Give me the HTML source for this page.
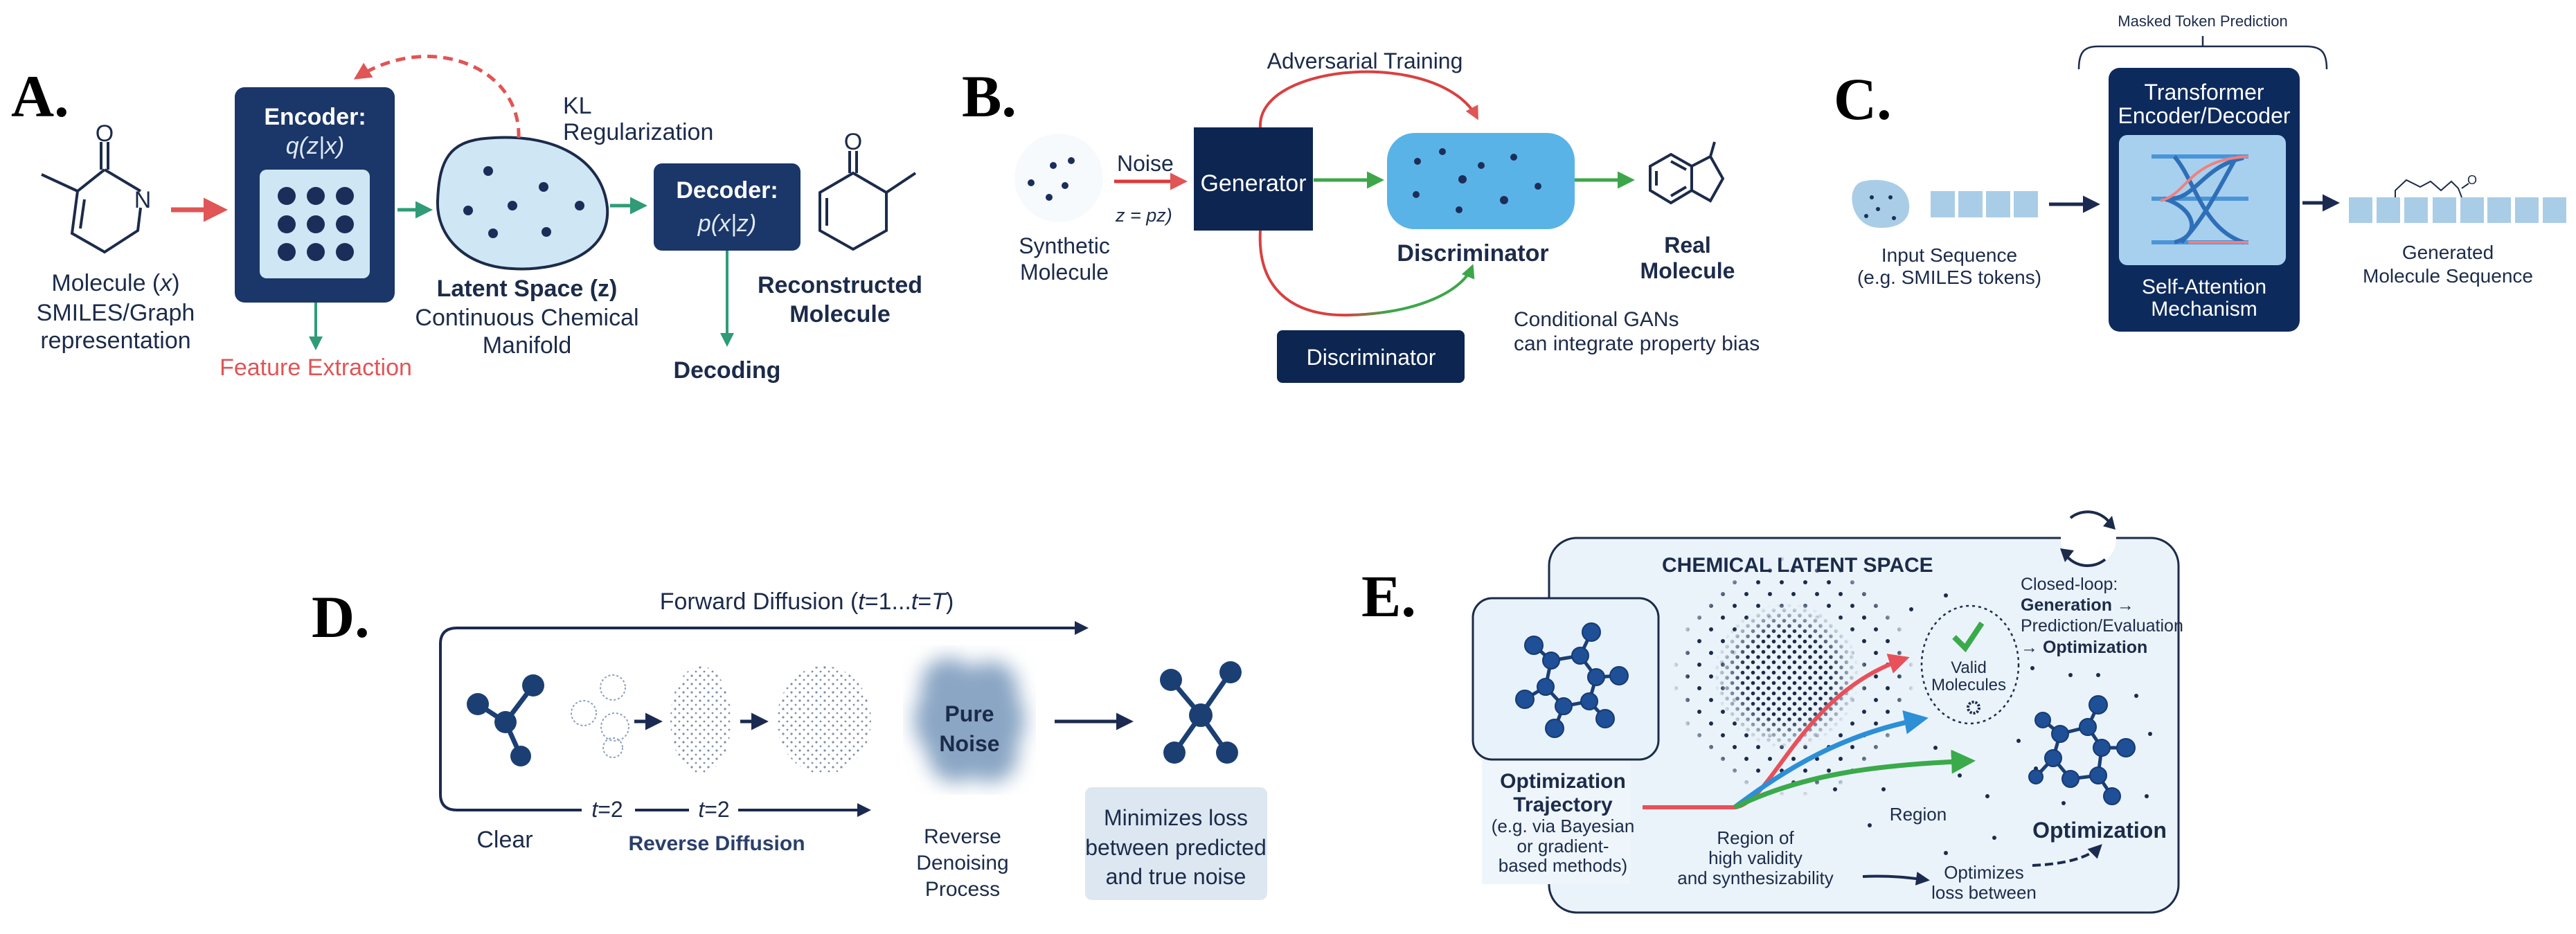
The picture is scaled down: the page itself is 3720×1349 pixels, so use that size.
<!DOCTYPE html>
<html><head><meta charset="utf-8"><style>
html,body{margin:0;padding:0;background:#fff;}
svg{display:block;}
text{font-family:"Liberation Sans",sans-serif;fill:#1c2b4a;}
.lab{font-family:"Liberation Serif",serif;font-weight:bold;fill:#000;font-size:86px;}
.w{fill:#fff;}
</style></head><body>
<svg width="3720" height="1349" viewBox="0 0 3720 1349" xmlns="http://www.w3.org/2000/svg">
<defs>
<marker id="ar" viewBox="0 0 10 10" refX="8" refY="5" markerWidth="5" markerHeight="5" orient="auto"><path d="M0,0 L10,5 L0,10 z" fill="#e05555"/></marker>
<marker id="ag" viewBox="0 0 10 10" refX="8" refY="5" markerWidth="5" markerHeight="5" orient="auto"><path d="M0,0 L10,5 L0,10 z" fill="#2f9b77"/></marker>
<marker id="ag2" viewBox="0 0 10 10" refX="8" refY="5" markerWidth="5" markerHeight="5" orient="auto"><path d="M0,0 L10,5 L0,10 z" fill="#3da64a"/></marker>
<marker id="an" viewBox="0 0 10 10" refX="8" refY="5" markerWidth="5" markerHeight="5" orient="auto"><path d="M0,0 L10,5 L0,10 z" fill="#1b2a50"/></marker>
<marker id="ab" viewBox="0 0 10 10" refX="8" refY="5" markerWidth="5" markerHeight="5" orient="auto"><path d="M0,0 L10,5 L0,10 z" fill="#2d8fd6"/></marker>
<marker id="ar2" viewBox="0 0 10 10" refX="8" refY="5" markerWidth="5" markerHeight="5" orient="auto"><path d="M0,0 L10,5 L0,10 z" fill="#e8505a"/></marker>
<marker id="ag3" viewBox="0 0 10 10" refX="8" refY="5" markerWidth="5" markerHeight="5" orient="auto"><path d="M0,0 L10,5 L0,10 z" fill="#3aaa4a"/></marker>
<linearGradient id="rg" x1="0" y1="0" x2="1" y2="0"><stop offset="0" stop-color="#d94040"/><stop offset="0.4" stop-color="#d94040"/><stop offset="0.6" stop-color="#3da64a"/><stop offset="1" stop-color="#3da64a"/></linearGradient>
<pattern id="dp" width="15" height="15" patternUnits="userSpaceOnUse"><circle cx="4" cy="4" r="2.8" fill="#1c2b4a"/><circle cx="11.5" cy="11.5" r="2.8" fill="#1c2b4a"/></pattern>
<pattern id="dp2" width="34" height="34" patternUnits="userSpaceOnUse"><circle cx="6" cy="8" r="3" fill="#1c2b4a"/><circle cx="23" cy="25" r="3" fill="#1c2b4a"/></pattern>
<pattern id="np" width="12" height="12" patternUnits="userSpaceOnUse"><circle cx="3" cy="4" r="1.6" fill="#5a7292"/><circle cx="9" cy="10" r="1.4" fill="#5a7292"/></pattern>
<radialGradient id="fade"><stop offset="0" stop-color="#fff"/><stop offset="0.6" stop-color="#fff"/><stop offset="1" stop-color="#fff" stop-opacity="0"/></radialGradient>
<radialGradient id="ring"><stop offset="0.5" stop-color="#000"/><stop offset="0.62" stop-color="#fff"/><stop offset="0.85" stop-color="#fff"/><stop offset="1" stop-color="#000"/></radialGradient>
<mask id="m1"><circle cx="2580" cy="976" r="105" fill="url(#fade)"/></mask>
<mask id="m2"><circle cx="2590" cy="976" r="175" fill="url(#ring)"/></mask>
<filter id="bl"><feGaussianBlur stdDeviation="14"/></filter>
</defs>

<!-- ========== PANEL A ========== -->
<text class="lab" x="16" y="168">A.</text>
<g stroke="#1c2b4a" stroke-width="4" fill="none">
<path d="M151,245 L203,276 M203,300 L199,333 L151,364 L104,337 L112,276 L151,245 M112,276 L60,252"/>
<path d="M122,288 L116,330"/>
<path d="M146,245 L146,205 M156,245 L156,205"/>
</g>
<text x="151" y="204" font-size="34" text-anchor="middle">O</text>
<text x="206" y="300" font-size="34" text-anchor="middle">N</text>
<text x="167" y="420" font-size="34" text-anchor="middle">Molecule (<tspan font-style="italic">x</tspan>)</text>
<text x="167" y="463" font-size="34" text-anchor="middle">SMILES/Graph</text>
<text x="167" y="503" font-size="34" text-anchor="middle">representation</text>
<line x1="247" y1="303" x2="322" y2="303" stroke="#e05555" stroke-width="7" marker-end="url(#ar)"/>
<rect x="339" y="126" width="231" height="311" rx="14" fill="#1b3668"/>
<text class="w" x="455" y="180" font-size="34" font-weight="bold" text-anchor="middle">Encoder:</text>
<text class="w" x="455" y="222" font-size="34" font-style="italic" text-anchor="middle" style="fill:#dfeaf7">q(z|x)</text>
<rect x="375" y="245" width="159" height="157" rx="10" fill="#cfe6f5"/>
<g fill="#1b2e5a"><circle cx="414" cy="283" r="13"/><circle cx="456" cy="283" r="13"/><circle cx="498" cy="283" r="13"/><circle cx="414" cy="324" r="13"/><circle cx="456" cy="324" r="13"/><circle cx="498" cy="324" r="13"/><circle cx="414" cy="364" r="13"/><circle cx="456" cy="364" r="13"/><circle cx="498" cy="364" r="13"/></g>
<line x1="456" y1="437" x2="456" y2="502" stroke="#2f9b77" stroke-width="4" marker-end="url(#ag)"/>
<text x="456" y="542" font-size="34" style="fill:#e05555" text-anchor="middle">Feature Extraction</text>
<line x1="574" y1="303" x2="620" y2="303" stroke="#2f9b77" stroke-width="5" marker-end="url(#ag)"/>
<path d="M700,200 C800,190 870,230 877,300 C882,370 800,392 740,388 C670,385 630,340 632,290 C634,230 650,205 700,200 Z" fill="#cfe6f5" stroke="#1c2b4a" stroke-width="4"/>
<g fill="#1b2e5a"><circle cx="705" cy="247" r="7"/><circle cx="785" cy="270" r="7"/><circle cx="676" cy="304" r="7"/><circle cx="740" cy="297" r="7"/><circle cx="837" cy="297" r="7"/><circle cx="712" cy="337" r="7"/><circle cx="789" cy="335" r="7"/></g>
<path d="M749,199 C752,95 620,45 515,112" fill="none" stroke="#e05555" stroke-width="5" stroke-dasharray="14,9" marker-end="url(#ar)"/>
<text x="813" y="164" font-size="34">KL</text>
<text x="813" y="202" font-size="34">Regularization</text>
<text x="761" y="428" font-size="34" font-weight="bold" text-anchor="middle">Latent Space (z)</text>
<text x="761" y="470" font-size="34" text-anchor="middle">Continuous Chemical</text>
<text x="761" y="510" font-size="34" text-anchor="middle">Manifold</text>
<line x1="881" y1="297" x2="930" y2="297" stroke="#2f9b77" stroke-width="5" marker-end="url(#ag)"/>
<rect x="944" y="236" width="212" height="126" rx="12" fill="#1b3668"/>
<text class="w" x="1050" y="286" font-size="34" font-weight="bold" text-anchor="middle">Decoder:</text>
<text class="w" x="1050" y="334" font-size="34" font-style="italic" text-anchor="middle" style="fill:#dfeaf7">p(x|z)</text>
<line x1="1050" y1="362" x2="1050" y2="497" stroke="#2f9b77" stroke-width="4" marker-end="url(#ag)"/>
<text x="1050" y="546" font-size="34" font-weight="bold" text-anchor="middle">Decoding</text>
<g stroke="#1c2b4a" stroke-width="4" fill="none">
<path d="M1232,250 L1280,278 L1280,333 L1232,360 L1184,333 L1184,278 Z M1280,278 L1322,250 M1194,286 L1194,326 M1227,250 L1227,218 M1237,250 L1237,218"/>
</g>
<text x="1232" y="216" font-size="34" text-anchor="middle">O</text>
<text x="1213" y="423" font-size="34" font-weight="bold" text-anchor="middle">Reconstructed</text>
<text x="1213" y="465" font-size="34" font-weight="bold" text-anchor="middle">Molecule</text>

<!-- ========== PANEL B ========== -->
<text class="lab" x="1389" y="168">B.</text>
<circle cx="1529" cy="257" r="64" fill="#f7fafd"/>
<g fill="#1b2e5a"><circle cx="1521" cy="239" r="5"/><circle cx="1547" cy="232" r="5"/><circle cx="1489" cy="264" r="5"/><circle cx="1538" cy="268" r="5"/><circle cx="1515" cy="285" r="5"/></g>
<text x="1537" y="366" font-size="32" text-anchor="middle">Synthetic</text>
<text x="1537" y="404" font-size="32" text-anchor="middle">Molecule</text>
<text x="1613" y="247" font-size="32">Noise</text>
<line x1="1609" y1="262" x2="1710" y2="262" stroke="#e03838" stroke-width="5" marker-end="url(#ar)"/>
<text x="1611" y="320" font-size="27" font-style="italic">z = pz)</text>
<rect x="1724" y="184" width="172" height="149" fill="#0d2551"/>
<text class="w" x="1810" y="276" font-size="34" text-anchor="middle">Generator</text>
<text x="1971" y="99" font-size="32" text-anchor="middle">Adversarial Training</text>
<path d="M1820,184 C1815,90 2080,70 2133,170" fill="none" stroke="#d94040" stroke-width="4" marker-end="url(#ar)"/>
<line x1="1897" y1="260" x2="1994" y2="260" stroke="#3da64a" stroke-width="5" marker-end="url(#ag2)"/>
<rect x="2003" y="192" width="271" height="139" rx="40" fill="#5ab3e6"/>
<g fill="#1b2e5a"><circle cx="2047" cy="233" r="5"/><circle cx="2083" cy="219" r="5"/><circle cx="2139" cy="239" r="5"/><circle cx="2186" cy="227" r="5"/><circle cx="2112" cy="259" r="6"/><circle cx="2221" cy="269" r="5"/><circle cx="2045" cy="281" r="5"/><circle cx="2172" cy="289" r="6"/><circle cx="2107" cy="303" r="5"/></g>
<text x="2127" y="377" font-size="34" font-weight="bold" text-anchor="middle">Discriminator</text>
<path d="M1820,333 C1815,420 1870,458 1950,455 C2050,452 2112,420 2126,385" fill="none" stroke="url(#rg)" stroke-width="4" marker-end="url(#ag2)"/>
<rect x="1844" y="477" width="271" height="76" rx="8" fill="#0d2551"/>
<text class="w" x="1980" y="527" font-size="32" text-anchor="middle">Discriminator</text>
<line x1="2274" y1="260" x2="2356" y2="260" stroke="#3da64a" stroke-width="5" marker-end="url(#ag2)"/>
<g stroke="#1c2b4a" stroke-width="4" fill="none">
<path d="M2413,223 L2443,240 L2443,275 L2413,293 L2383,275 L2383,240 Z M2392,247 L2392,268 M2413,233 L2435,245 M2413,283 L2435,270"/>
<path d="M2443,240 L2470,226 L2488,258 L2470,290 L2443,275 M2470,226 L2476,205"/>
</g>
<text x="2437" y="365" font-size="32" font-weight="bold" text-anchor="middle">Real</text>
<text x="2437" y="402" font-size="32" font-weight="bold" text-anchor="middle">Molecule</text>
<text x="2186" y="471" font-size="30">Conditional GANs</text>
<text x="2186" y="506" font-size="30">can integrate property bias</text>

<!-- ========== PANEL C ========== -->
<text class="lab" x="2648" y="172">C.</text>
<text x="3181" y="38" font-size="22" text-anchor="middle">Masked Token Prediction</text>
<path d="M3002,100 C3002,75 3010,67 3030,67 L3330,67 C3352,67 3360,75 3360,100 M3181,67 L3181,52" fill="none" stroke="#1c2b4a" stroke-width="2.5"/>
<rect x="3045" y="98" width="276" height="381" rx="16" fill="#0d2a5c"/>
<text class="w" x="3183" y="144" font-size="32" text-anchor="middle">Transformer</text>
<text class="w" x="3183" y="178" font-size="32" text-anchor="middle">Encoder/Decoder</text>
<rect x="3060" y="195" width="241" height="188" rx="12" fill="#a7d0ee"/>
<g fill="none" stroke-width="6">
<path d="M3107,226 L3247,226 M3107,287 L3247,287 M3107,350 L3247,350" stroke="#4a95d8"/>
<path d="M3140,226 C3170,260 3180,330 3240,350 M3230,226 C3200,280 3180,320 3150,350 M3130,287 C3170,290 3180,240 3240,228 M3125,287 C3170,300 3180,340 3140,350" stroke="#2f6fb8"/>
<path d="M3120,290 C3160,280 3160,230 3247,226 M3160,350 L3247,350" stroke="#f08080" stroke-width="4"/>
</g>
<text class="w" x="3183" y="424" font-size="30" text-anchor="middle">Self-Attention</text>
<text class="w" x="3183" y="456" font-size="30" text-anchor="middle">Mechanism</text>
<path d="M2690,262 C2720,255 2755,265 2757,295 C2760,325 2730,332 2705,328 C2680,322 2672,295 2675,280 C2677,270 2682,264 2690,262 Z" fill="#a9cde6"/>
<g fill="#1b2e5a"><circle cx="2703" cy="285" r="3"/><circle cx="2730" cy="285" r="3"/><circle cx="2712" cy="302" r="3"/><circle cx="2695" cy="312" r="3"/><circle cx="2735" cy="315" r="3"/></g>
<g fill="#a9cde6"><rect x="2788" y="276" width="35" height="38"/><rect x="2828" y="276" width="35" height="38"/><rect x="2868" y="276" width="35" height="38"/><rect x="2908" y="276" width="35" height="38"/></g>
<line x1="2959" y1="295" x2="3028" y2="295" stroke="#1b2a50" stroke-width="5" marker-end="url(#an)"/>
<text x="2815" y="378" font-size="28" text-anchor="middle">Input Sequence</text>
<text x="2815" y="410" font-size="28" text-anchor="middle">(e.g. SMILES  tokens)</text>
<line x1="3325" y1="293" x2="3374" y2="293" stroke="#1b2a50" stroke-width="5" marker-end="url(#an)"/>
<g fill="#a9cde6"><rect x="3392" y="285" width="34" height="37"/><rect x="3432" y="285" width="34" height="37"/><rect x="3472" y="285" width="34" height="37"/><rect x="3513" y="285" width="34" height="37"/><rect x="3553" y="285" width="34" height="37"/><rect x="3592" y="285" width="34" height="37"/><rect x="3632" y="285" width="34" height="37"/><rect x="3672" y="285" width="34" height="37"/></g>
<path d="M3459,285 L3459,275 L3475,260 L3495,270 L3510,262 L3525,275 L3540,262 L3550,272 L3555,285 M3555,272 L3565,265" fill="none" stroke="#1c2b4a" stroke-width="2"/>
<text x="3570" y="266" font-size="18" text-anchor="middle">O</text>
<text x="3535" y="374" font-size="28" text-anchor="middle">Generated</text>
<text x="3535" y="408" font-size="28" text-anchor="middle">Molecule Sequence</text>

<!-- ========== PANEL D ========== -->
<text class="lab" x="450" y="920">D.</text>
<text x="1165" y="880" font-size="34" text-anchor="middle">Forward Diffusion (<tspan font-style="italic">t</tspan>=1...<tspan font-style="italic">t</tspan>=<tspan font-style="italic">T</tspan>)</text>
<path d="M1568,907 L660,907 Q636,907 636,930 L636,1147 Q636,1170 660,1170 L840,1170" fill="none" stroke="#1b2a50" stroke-width="4"/>
<line x1="1400" y1="907" x2="1568" y2="907" stroke="#1b2a50" stroke-width="4" marker-end="url(#an)"/>
<line x1="917" y1="1170" x2="995" y2="1170" stroke="#1b2a50" stroke-width="4"/>
<line x1="1066" y1="1170" x2="1254" y2="1170" stroke="#1b2a50" stroke-width="4" marker-end="url(#an)"/>
<text x="877" y="1180" font-size="32" text-anchor="middle"><tspan font-style="italic">t</tspan>=2</text>
<text x="1031" y="1180" font-size="32" text-anchor="middle"><tspan font-style="italic">t</tspan>=2</text>
<g stroke="#1b3f73" stroke-width="7"><line x1="730" y1="1043" x2="690" y2="1017"/><line x1="730" y1="1043" x2="770" y2="990"/><line x1="730" y1="1043" x2="752" y2="1092"/></g>
<g fill="#1b3f73"><circle cx="690" cy="1017" r="16"/><circle cx="770" cy="990" r="16"/><circle cx="730" cy="1043" r="16"/><circle cx="752" cy="1092" r="15"/></g>
<text x="729" y="1224" font-size="34" text-anchor="middle">Clear</text>
<g fill="none" stroke="#8aa0bb" stroke-width="2" stroke-dasharray="3,3"><circle cx="843" cy="1030" r="18"/><circle cx="885" cy="993" r="18"/><circle cx="888" cy="1050" r="20"/><circle cx="885" cy="1080" r="14"/></g>
<line x1="916" y1="1042" x2="952" y2="1042" stroke="#1b2a50" stroke-width="5" marker-end="url(#an)"/>
<line x1="1069" y1="1042" x2="1105" y2="1042" stroke="#1b2a50" stroke-width="5" marker-end="url(#an)"/>
<ellipse cx="1012" cy="1040" rx="44" ry="78" fill="url(#np)" opacity="0.8"/>
<ellipse cx="1190" cy="1040" rx="68" ry="78" fill="url(#np)" opacity="0.8"/>
<g filter="url(#bl)" fill="#8aa6c4"><ellipse cx="1400" cy="1040" rx="80" ry="70"/><ellipse cx="1370" cy="990" rx="40" ry="40"/><ellipse cx="1430" cy="995" rx="40" ry="40"/><ellipse cx="1380" cy="1090" rx="40" ry="40"/><ellipse cx="1430" cy="1090" rx="40" ry="40"/></g>
<text x="1400" y="1042" font-size="32" font-weight="bold" text-anchor="middle">Pure</text>
<text x="1400" y="1085" font-size="32" font-weight="bold" text-anchor="middle">Noise</text>
<line x1="1523" y1="1042" x2="1632" y2="1042" stroke="#1b2a50" stroke-width="5" marker-end="url(#an)"/>
<g stroke="#1b3f73" stroke-width="7"><line x1="1734" y1="1033" x2="1691" y2="982"/><line x1="1734" y1="1033" x2="1777" y2="971"/><line x1="1734" y1="1033" x2="1696" y2="1087"/><line x1="1734" y1="1033" x2="1772" y2="1087"/></g>
<g fill="#1b3f73"><circle cx="1691" cy="982" r="16"/><circle cx="1777" cy="971" r="16"/><circle cx="1734" cy="1033" r="17"/><circle cx="1696" cy="1087" r="16"/><circle cx="1772" cy="1087" r="16"/></g>
<text x="1035" y="1228" font-size="30" font-weight="bold" text-anchor="middle" style="fill:#2a3f6a">Reverse Diffusion</text>
<text x="1390" y="1218" font-size="30" text-anchor="middle">Reverse</text>
<text x="1390" y="1256" font-size="30" text-anchor="middle">Denoising</text>
<text x="1390" y="1294" font-size="30" text-anchor="middle">Process</text>
<rect x="1567" y="1137" width="263" height="163" rx="10" fill="#dce7f1"/>
<text x="1698" y="1192" font-size="32" text-anchor="middle">Minimizes loss</text>
<text x="1698" y="1235" font-size="32" text-anchor="middle">between predicted</text>
<text x="1698" y="1277" font-size="32" text-anchor="middle">and true noise</text>

<!-- ========== PANEL E ========== -->
<text class="lab" x="1966" y="890">E.</text>
<rect x="2237" y="777" width="909" height="541" rx="40" fill="#eaf3fa" stroke="#1c2b4a" stroke-width="3"/>
<rect x="2140" y="1097" width="215" height="180" fill="#eef5fb"/>
<circle cx="3016" cy="778" r="40" fill="#fff"/>
<path d="M2990,748 A40,40 0 0 1 3050,760 M3040,808 A40,40 0 0 1 2980,797" fill="none" stroke="#1c2b4a" stroke-width="4"/>
<path d="M3050,745 L3055,765 L3037,760 Z M2982,812 L2975,792 L2995,795 Z" fill="#1c2b4a"/>
<text x="2400" y="826" font-size="30" font-weight="bold">CHEMICAL LATENT SPACE</text>
<rect x="2127" y="864" width="268" height="233" rx="28" fill="#e8f2fa" stroke="#1c2b4a" stroke-width="3"/>
<g stroke="#1b3f73" stroke-width="5" fill="none"><path d="M2240,954 L2282,947 L2305,978 L2295,1013 L2258,1020 L2232,992 Z M2240,954 L2215,932 M2282,947 L2298,913 M2305,978 L2338,976 M2295,1013 L2318,1038 M2258,1020 L2245,1052 M2232,992 L2202,1010"/></g>
<g fill="#1f4f96" stroke="#163a73" stroke-width="2"><circle cx="2240" cy="954" r="12"/><circle cx="2282" cy="947" r="12"/><circle cx="2305" cy="978" r="12"/><circle cx="2295" cy="1013" r="12"/><circle cx="2258" cy="1020" r="12"/><circle cx="2232" cy="992" r="12"/><circle cx="2215" cy="932" r="13"/><circle cx="2298" cy="913" r="13"/><circle cx="2338" cy="976" r="13"/><circle cx="2318" cy="1038" r="13"/><circle cx="2245" cy="1052" r="13"/><circle cx="2202" cy="1010" r="13"/></g>
<text x="2257" y="1138" font-size="30" font-weight="bold" text-anchor="middle">Optimization</text>
<text x="2257" y="1172" font-size="30" font-weight="bold" text-anchor="middle">Trajectory</text>
<text x="2257" y="1202" font-size="26" text-anchor="middle">(e.g. via Bayesian</text>
<text x="2257" y="1231" font-size="26" text-anchor="middle">or gradient-</text>
<text x="2257" y="1259" font-size="26" text-anchor="middle">based methods)</text>
<rect x="2470" y="870" width="220" height="220" fill="url(#dp)" mask="url(#m1)"/>
<rect x="2410" y="800" width="360" height="360" fill="url(#dp2)" mask="url(#m2)"/>
<g fill="#1c2b4a"><circle cx="2810" cy="860" r="3"/><circle cx="2760" cy="880" r="3"/><circle cx="2795" cy="1080" r="3"/><circle cx="2830" cy="1120" r="3"/><circle cx="2720" cy="1140" r="3"/><circle cx="2870" cy="1150" r="3"/><circle cx="2915" cy="1070" r="3"/><circle cx="2935" cy="965" r="3"/><circle cx="2990" cy="975" r="3"/><circle cx="3030" cy="975" r="3"/><circle cx="3085" cy="1005" r="3"/><circle cx="3105" cy="1060" r="3"/><circle cx="3100" cy="1150" r="3"/><circle cx="2980" cy="1160" r="3"/><circle cx="2880" cy="1210" r="3"/><circle cx="2810" cy="1232" r="3"/><circle cx="2700" cy="1192" r="3"/><circle cx="2650" cy="1140" r="3"/><circle cx="2940" cy="1110" r="3"/></g>
<ellipse cx="2845" cy="960" rx="70" ry="85" fill="none" stroke="#1c2b4a" stroke-width="2.5" stroke-dasharray="4,5"/>
<path d="M2822,920 L2838,936 L2862,900" fill="none" stroke="#3aaa4a" stroke-width="8"/>
<text x="2843" y="972" font-size="24" text-anchor="middle">Valid</text>
<text x="2843" y="997" font-size="24" text-anchor="middle">Molecules</text>
<circle cx="2850" cy="1022" r="8" fill="none" stroke="#1c2b4a" stroke-width="4" stroke-dasharray="3,2"/>
<path d="M2372,1166 L2505,1166 C2560,1160 2600,1000 2752,951" fill="none" stroke="#e8505a" stroke-width="6" marker-end="url(#ar2)"/>
<path d="M2505,1166 C2580,1110 2660,1060 2778,1038" fill="none" stroke="#2d8fd6" stroke-width="7" marker-end="url(#ab)"/>
<path d="M2505,1166 C2600,1120 2700,1105 2846,1099" fill="none" stroke="#3aaa4a" stroke-width="7" marker-end="url(#ag3)"/>
<text x="2918" y="852" font-size="25">Closed-loop:</text>
<text x="2918" y="882" font-size="25" font-weight="bold">Generation →</text>
<text x="2918" y="912" font-size="25">Prediction/Evaluation</text>
<text x="2918" y="943" font-size="25" font-weight="bold">→ Optimization</text>
<g stroke="#1b3f73" stroke-width="5" fill="none"><path d="M2975,1060 L3015,1050 L3035,1080 L3030,1120 L2990,1125 L2965,1095 Z M3015,1050 L3030,1018 M2975,1060 L2950,1040 M3035,1080 L3070,1080 M3030,1120 L3050,1150 M2965,1095 L2940,1122"/></g>
<g fill="#1f4f96" stroke="#163a73" stroke-width="2"><circle cx="2975" cy="1060" r="12"/><circle cx="3015" cy="1050" r="12"/><circle cx="3035" cy="1080" r="12"/><circle cx="3030" cy="1120" r="12"/><circle cx="2990" cy="1125" r="12"/><circle cx="2965" cy="1095" r="12"/><circle cx="3030" cy="1018" r="13"/><circle cx="2950" cy="1040" r="11"/><circle cx="3070" cy="1080" r="13"/><circle cx="3050" cy="1150" r="12"/><circle cx="2940" cy="1122" r="10"/></g>
<text x="3032" y="1210" font-size="32" font-weight="bold" text-anchor="middle">Optimization</text>
<text x="2770" y="1185" font-size="26" text-anchor="middle">Region</text>
<text x="2535" y="1219" font-size="26" text-anchor="middle">Region of</text>
<text x="2535" y="1248" font-size="26" text-anchor="middle">high validity</text>
<text x="2535" y="1277" font-size="26" text-anchor="middle">and synthesizability</text>
<path d="M2690,1266 C2730,1264 2760,1268 2783,1271" fill="none" stroke="#1b2a50" stroke-width="4" marker-end="url(#an)"/>
<text x="2865" y="1269" font-size="26" text-anchor="middle">Optimizes</text>
<text x="2865" y="1298" font-size="26" text-anchor="middle">loss between</text>
<path d="M2935,1250 C2980,1248 3015,1240 3033,1222" fill="none" stroke="#1b2a50" stroke-width="4" stroke-dasharray="12,6" marker-end="url(#an)"/>
</svg>
</body></html>
